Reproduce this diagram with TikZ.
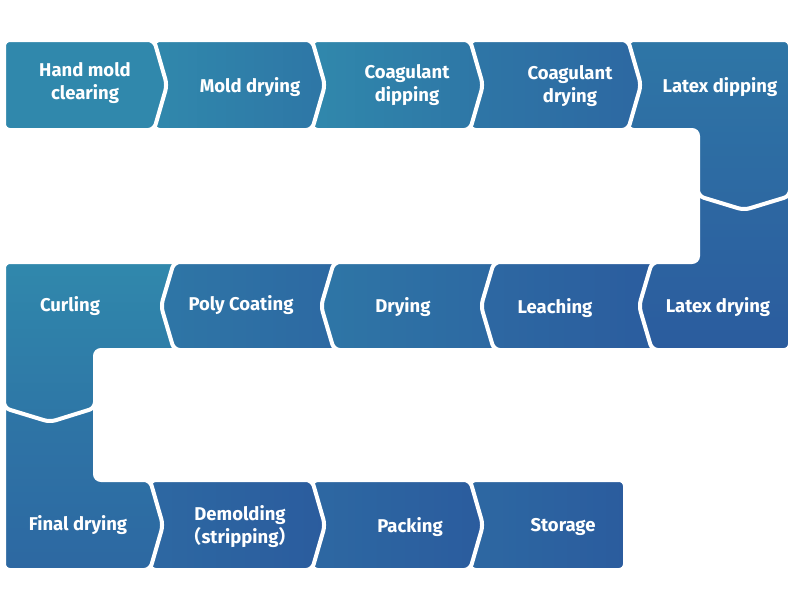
\documentclass[tikz,border=0pt]{standalone}
\usepackage{fontspec}
\setmainfont{Fira Sans}
\newfontfamily\cjk{Noto Sans CJK SC}
\begin{document}
\begin{tikzpicture}[x=1pt,y=-1pt,
  blk/.style={draw=white,line width=4pt,rounded corners=6pt,shading angle=135},
  lbl/.style={text=white,font=\fontsize{18.5}{23}\selectfont\bfseries,align=center}]
\definecolor{tA}{HTML}{3088AC}
\definecolor{tB}{HTML}{2E76A6}
\definecolor{tC}{HTML}{2D68A2}
\definecolor{tD}{HTML}{2B5C9E}
\useasboundingbox (0,0) rectangle (800,600);
% row 3
\path[blk,left color=tC,right color=tD] (470,480) -- (625,480) -- (625,570) -- (470,570) -- cycle;
\path[blk,left color=tC,right color=tD] (312,480) -- (470,480) -- (483,525) -- (470,570) -- (312,570) -- cycle;
\path[blk,left color=tC,right color=tD] (150,480) -- (312,480) -- (325,525) -- (312,570) -- (150,570) -- cycle;
\path[blk,top color=tB,bottom color=tC] (4,400) -- (95,400) -- (95,480) -- (150,480) -- (163,525) -- (150,570) -- (4,570) -- cycle;
% row 2
\path[blk,top color=tA,bottom color=tB] (4,262) -- (184,262) -- (184,350) -- (95,350) -- (95,408) -- (50,422) -- (4,408) -- cycle;
\path[blk,left color=tB,right color=tC] (174,262) -- (344,262) -- (344,350) -- (174,350) -- (161,306) -- cycle;
\path[blk,left color=tB,right color=tC] (334,262) -- (504,262) -- (504,350) -- (334,350) -- (321,306) -- cycle;
\path[blk,left color=tC,right color=tD] (494,262) -- (662,262) -- (662,350) -- (494,350) -- (481,306) -- cycle;
\path[blk,top color=tC,bottom color=tD] (698,190) -- (790,190) -- (790,350) -- (652,350) -- (639,306) -- (652,262) -- (698,262) -- cycle;
% row 1
\path[blk,top color=tB,bottom color=tC] (628,40) -- (790,40) -- (790,196) -- (744,210) -- (698,196) -- (698,130) -- (628,130) -- cycle;
\path[blk,left color=tB,right color=tC] (470,40) -- (628,40) -- (641,85) -- (628,130) -- (470,130) -- cycle;
\path[blk,left color=tA,right color=tB] (312,40) -- (470,40) -- (483,85) -- (470,130) -- (312,130) -- cycle;
\path[blk,left color=tA,right color=tB] (154,40) -- (312,40) -- (325,85) -- (312,130) -- (154,130) -- cycle;
\path[blk,left color=tA,right color=tA] (4,40) -- (154,40) -- (167,85) -- (154,130) -- (4,130) -- cycle;
% labels
\node[lbl] (n1) at (85,83) {Hand mold\\clearing};
\node[lbl] (n2) at (250,87) {Mold drying};
\node[lbl] (n3) at (407,85) {Coagulant\\dipping};
\node[lbl] (n4) at (570,86) {Coagulant\\drying};
\node[lbl] (n5) at (720,87) {Latex dipping};
\node[lbl] (n6) at (718,307) {Latex drying};
\node[lbl] (n7) at (555,308) {Leaching};
\node[lbl] (n8) at (403,307) {Drying};
\node[lbl] (n9) at (241,305) {Poly Coating};
\node[lbl] (n10) at (70,306) {Curling};
\node[lbl] (n11) at (78,525) {Final drying};
\node[lbl] (n12) at (240,527) {Demolding\\{\cjk （}stripping{\cjk ）}};
\node[lbl] (n13) at (410,527) {Packing};
\node[lbl] (n14) at (563,527) {Storage};
\end{tikzpicture}
\end{document}
